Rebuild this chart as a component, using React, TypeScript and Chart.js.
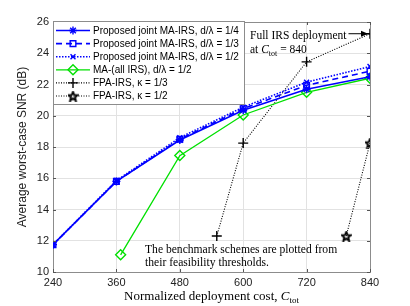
import React, { useEffect, useRef } from "react";
import { Chart, registerables } from "chart.js";
import { drawPoint } from "chart.js/helpers";

Chart.register(...registerables);

const costTicks = [240, 360, 480, 600, 720, 840];
const snrTicks = [10, 12, 14, 16, 18, 20, 22, 24, 26];

const costProposed = [240, 360, 480, 600, 720, 840];
const snrProposedQuarter = [11.75, 15.8, 18.45, 20.35, 21.7, 22.5];
const snrProposedThird = [11.75, 15.8, 18.5, 20.45, 21.95, 22.85];
const snrProposedHalf = [11.75, 15.85, 18.6, 20.55, 22.15, 23.15];

const costMA = [368, 480, 600, 720, 840];
const snrMA = [11.1, 17.45, 20.05, 21.5, 22.4];

const costFPA13 = [550, 600, 720, 840];
const snrFPA13 = [12.3, 18.25, 23.45, 25.25];

const costFPA12 = [795, 840];
const snrFPA12 = [12.3, 18.25];

const legendLabels = [
  "Proposed joint MA-IRS, d/λ = 1/4",
  "Proposed joint MA-IRS, d/λ = 1/3",
  "Proposed joint MA-IRS, d/λ = 1/2",
  "MA-(all IRS), d/λ = 1/2",
  "FPA-IRS, κ = 1/3",
  "FPA-IRS, κ = 1/2",
];

const SANS = "'Liberation Sans', Arial, sans-serif";
const SERIF = "'Liberation Serif', 'Times New Roman', serif";

function makePentagram(size: number, color: string) {
  const c = document.createElement("canvas");
  c.width = size;
  c.height = size;
  const ctx = c.getContext("2d")!;
  const cx = size / 2, cy = size / 2 + 0.6;
  const R = size / 2 - 0.8, r = R * 0.45;
  ctx.beginPath();
  for (let i = 0; i < 10; i++) {
    const rad = i % 2 === 0 ? R : r;
    const a = -Math.PI / 2 + (i * Math.PI) / 5;
    const px = cx + rad * Math.cos(a), py = cy + rad * Math.sin(a);
    if (i === 0) ctx.moveTo(px, py); else ctx.lineTo(px, py);
  }
  ctx.closePath();
  ctx.strokeStyle = color;
  ctx.lineWidth = 1.9;
  ctx.stroke();
  return c;
}

function toXY(xs: number[], ys: number[]) {
  return xs.map((x, i) => ({ x, y: ys[i] }));
}

export default function App() {
  const ref = useRef<HTMLCanvasElement | null>(null);

  useEffect(() => {
    document.body.style.margin = "0";
    const canvas = ref.current!;
    const star = makePentagram(11, "#000");

    const styles = [
      { color: "#0000ff", dash: [] as number[], pt: "star" as any, r: 4, w: 1.6 },
      { color: "#0000ff", dash: [6, 4], pt: "rect" as any, r: 4, w: 1.6 },
      { color: "#0000ff", dash: [1.5, 1.5], pt: "crossRot" as any, r: 3.5, w: 1.6 },
      { color: "#00e000", dash: [], pt: "rectRot" as any, r: 5, w: 1.3 },
      { color: "#000000", dash: [1, 1.5], pt: "cross" as any, r: 5, w: 1.1 },
      { color: "#000000", dash: [1, 1.5], pt: star as any, r: 5, w: 1.1 },
    ];

    const dataSets = [
      toXY(costProposed, snrProposedQuarter),
      toXY(costProposed, snrProposedThird),
      toXY(costProposed, snrProposedHalf),
      toXY(costMA, snrMA),
      toXY(costFPA13, snrFPA13),
      toXY(costFPA12, snrFPA12),
    ];

    const drawMarker = (ctx: CanvasRenderingContext2D, s: any, x: number, y: number) => {
      ctx.save();
      ctx.setLineDash([]);
      ctx.strokeStyle = s.color;
      ctx.fillStyle = "rgba(0,0,0,0)";
      ctx.lineWidth = 1.4;
      drawPoint(ctx, { pointStyle: s.pt, radius: s.r, borderWidth: 1.4, rotation: 0 } as any, x, y);
      ctx.restore();
    };

    const overlay = {
      id: "overlay",
      afterDraw(chart: any) {
        const ctx: CanvasRenderingContext2D = chart.ctx;
        const { left, right, top, bottom } = chart.chartArea;
        const xs = chart.scales.x, ys = chart.scales.y;
        ctx.save();
        // top & right border
        ctx.strokeStyle = "#8c8c8c";
        ctx.lineWidth = 1;
        ctx.setLineDash([]);
        ctx.beginPath();
        ctx.moveTo(left, top + 0.5);
        ctx.lineTo(right + 0.5, top + 0.5);
        ctx.lineTo(right + 0.5, bottom);
        ctx.stroke();
        // small tick marks
        ctx.strokeStyle = "#555";
        for (const v of snrTicks) {
          const py = Math.round(ys.getPixelForValue(v)) + 0.5;
          ctx.beginPath();
          ctx.moveTo(left, py); ctx.lineTo(left + 3, py);
          ctx.moveTo(right, py); ctx.lineTo(right - 3, py);
          ctx.stroke();
        }
        for (const v of costTicks) {
          const px = Math.round(xs.getPixelForValue(v)) + 0.5;
          ctx.beginPath();
          ctx.moveTo(px, bottom); ctx.lineTo(px, bottom - 3);
          ctx.moveTo(px, top); ctx.lineTo(px, top + 3);
          ctx.stroke();
        }

        // Legend box
        const lx = left, ly = top - 1, lw = 191, lh = 83;
        ctx.fillStyle = "#fff";
        ctx.fillRect(lx, ly, lw, lh);
        ctx.strokeStyle = "#8c8c8c";
        ctx.lineWidth = 1;
        ctx.strokeRect(lx + 0.5, ly + 0.5, lw, lh);
        ctx.font = `10px ${SANS}`;
        ctx.textBaseline = "middle";
        ctx.textAlign = "left";
        for (let i = 0; i < 6; i++) {
          const s = styles[i];
          const cy = ly + 9.5 + i * 13.1;
          ctx.strokeStyle = s.color;
          ctx.lineWidth = s.w;
          ctx.setLineDash(s.dash);
          ctx.beginPath();
          ctx.moveTo(lx + 3, cy);
          ctx.lineTo(lx + 37, cy);
          ctx.stroke();
          drawMarker(ctx, s, lx + 20, cy);
          ctx.fillStyle = "#000";
          ctx.fillText(legendLabels[i], lx + 40, cy + 0.5);
        }

        // Full IRS deployment annotation
        const ax = xs.getPixelForValue(840), ay = ys.getPixelForValue(25.25);
        const tx0 = left + 197;
        ctx.font = `11.5px ${SERIF}`;
        ctx.fillStyle = "#000";
        ctx.textBaseline = "alphabetic";
        ctx.fillText("Full IRS deployment", tx0, top + 17);
        const w1 = ctx.measureText("Full IRS deployment").width;
        ctx.fillText("at ", tx0, top + 31);
        let cx = tx0 + ctx.measureText("at ").width;
        ctx.font = `italic 11.5px ${SERIF}`;
        ctx.fillText("C", cx, top + 31);
        cx += ctx.measureText("C").width;
        ctx.font = `8px ${SERIF}`;
        ctx.fillText("tot", cx, top + 33.5);
        cx += ctx.measureText("tot").width;
        ctx.font = `11.5px ${SERIF}`;
        ctx.fillText(" = 840", cx, top + 31);
        // arrow
        const sx = tx0 + w1 + 2;
        ctx.strokeStyle = "#000";
        ctx.lineWidth = 1;
        ctx.setLineDash([]);
        ctx.beginPath();
        ctx.moveTo(sx, ay);
        ctx.lineTo(ax - 2, ay);
        ctx.stroke();
        ctx.beginPath();
        ctx.moveTo(ax - 2, ay);
        ctx.lineTo(ax - 9, ay - 3);
        ctx.lineTo(ax - 9, ay + 3);
        ctx.closePath();
        ctx.fillStyle = "#000";
        ctx.fill();

        // benchmark note
        ctx.font = `11.6px ${SERIF}`;
        ctx.fillStyle = "#000";
        ctx.fillText("The benchmark schemes are plotted from", left + 92, bottom - 19);
        ctx.fillText("their feasibility thresholds.", left + 92, bottom - 6);

        // x-axis title
        ctx.font = `13px ${SERIF}`;
        const t1 = "Normalized deployment cost, ";
        const w = ctx.measureText(t1).width;
        ctx.font = `italic 13px ${SERIF}`;
        const wc = ctx.measureText("C").width;
        ctx.font = `9px ${SERIF}`;
        const wt = ctx.measureText("tot").width;
        const total = w + wc + wt;
        let tx = (left + right) / 2 - total / 2;
        const ty = 300;
        ctx.font = `13px ${SERIF}`;
        ctx.fillText(t1, tx, ty);
        tx += w;
        ctx.font = `italic 13px ${SERIF}`;
        ctx.fillText("C", tx, ty);
        tx += wc;
        ctx.font = `9px ${SERIF}`;
        ctx.fillText("tot", tx, ty + 3);
        ctx.restore();
      },
    };

    const chart = new Chart(canvas, {
      type: "line",
      data: {
        datasets: dataSets.map((d, i) => {
          const s = styles[i];
          return {
            label: legendLabels[i],
            data: d,
            borderColor: s.color,
            backgroundColor: "rgba(0,0,0,0)",
            borderWidth: s.w,
            borderDash: s.dash,
            pointStyle: s.pt as any,
            pointRadius: s.r,
            pointBorderWidth: 1.4,
            pointBorderColor: s.color,
            pointBackgroundColor: "rgba(0,0,0,0)",
            tension: 0,
            fill: false,
          };
        }),
      },
      options: {
        animation: false,
        responsive: false,
        devicePixelRatio: 1,
        layout: { padding: { left: 0, right: 40, top: 22, bottom: 0 } },
        plugins: { legend: { display: false }, tooltip: { enabled: false } },
        scales: {
          x: {
            type: "linear",
            min: 240,
            max: 840,
            afterBuildTicks: (s: any) => { s.ticks = costTicks.map((v) => ({ value: v })); },
            afterFit: (s: any) => { s.height = 34; },
            ticks: { font: { family: SANS, size: 11 }, color: "#222", padding: 4, maxRotation: 0 },
            grid: { color: "#e2e2e2", drawTicks: false },
            border: { color: "#8c8c8c" },
          },
          y: {
            type: "linear",
            min: 10,
            max: 26,
            afterBuildTicks: (s: any) => { s.ticks = snrTicks.map((v) => ({ value: v })); },
            afterFit: (s: any) => { s.width = 53; },
            ticks: { font: { family: SANS, size: 11 }, color: "#222", padding: 4 },
            grid: { color: "#e2e2e2", drawTicks: false },
            border: { color: "#8c8c8c" },
            title: {
              display: true,
              text: "Average worst-case SNR (dB)",
              font: { family: SANS, size: 12 },
              color: "#222",
              padding: { top: 15, bottom: 0 },
            },
          },
        },
      },
      plugins: [overlay],
    });
    return () => chart.destroy();
  }, []);

  return (
    <div style={{ width: 410, height: 306 }}>
      <canvas ref={ref} width={410} height={306} style={{ width: 410, height: 306, display: "block" }} />
    </div>
  );
}
